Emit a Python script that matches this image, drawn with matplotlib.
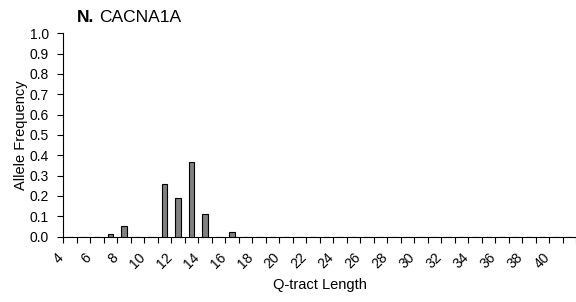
import numpy as np
import matplotlib
matplotlib.use("Agg")
import matplotlib.pyplot as plt

plt.rcParams["font.family"] = ["Liberation Sans", "DejaVu Sans"]

# Q-tract lengths shown on the category axis and their allele frequencies
lengths = list(range(4, 42))
freq_values = {7: 0.01, 8: 0.054, 11: 0.26, 12: 0.189, 13: 0.367, 14: 0.109, 16: 0.02}
freqs = [freq_values.get(n, 0.0) for n in lengths]
yticks = [0.0, 0.1, 0.2, 0.3, 0.4, 0.5, 0.6, 0.7, 0.8, 0.9, 1.0]

fig = plt.figure(figsize=(5.76, 3.02), dpi=100)
ax = fig.add_axes([63.3 / 576, 65.5 / 302, (576 - 63.3) / 576, (236.5 - 33.3) / 302])

idx = np.arange(len(lengths))
ax.bar(idx, freqs, width=0.42, color="#808080", edgecolor="black", linewidth=0.8, zorder=3)

ax.set_xlim(-0.5, -0.5 + 512.7 / 13.6)
ax.set_ylim(0, 1.0)

# category boundaries as tick marks, labels every other category
ax.set_xticks(np.arange(len(lengths) + 1) - 0.5, minor=True)
lab_idx = idx[::2]
ax.set_xticks(lab_idx - 0.25)
ax.set_xticklabels([str(lengths[i]) for i in lab_idx], rotation=45, ha="right", va="top", fontsize=10)
ax.tick_params(axis="x", which="major", length=0, pad=10)
ax.tick_params(axis="x", which="minor", length=4, width=0.8, direction="out")

ax.set_yticks(yticks)
ax.set_yticklabels(["%.1f" % v for v in yticks], fontsize=10)
ax.tick_params(axis="y", length=4, width=0.8, direction="out", pad=6.5)

for s in ["top", "right"]:
    ax.spines[s].set_visible(False)
for s in ["left", "bottom"]:
    ax.spines[s].set_linewidth(0.8)

fig.text(21 / 576, 1 - 135 / 302, "Allele Frequency", rotation=90, ha="center", va="center", fontsize=10.5)
fig.text(320 / 576, 1 - 285.5 / 302, "Q-tract Length", ha="center", va="center", fontsize=10.5)
fig.text(77 / 576, 1 - 22 / 302, "N.", fontweight="bold", ha="left", va="baseline", fontsize=12.5)
fig.text(99 / 576, 1 - 22 / 302, "CACNA1A", ha="left", va="baseline", fontsize=12.5)

fig.savefig("out.png", dpi=100)
